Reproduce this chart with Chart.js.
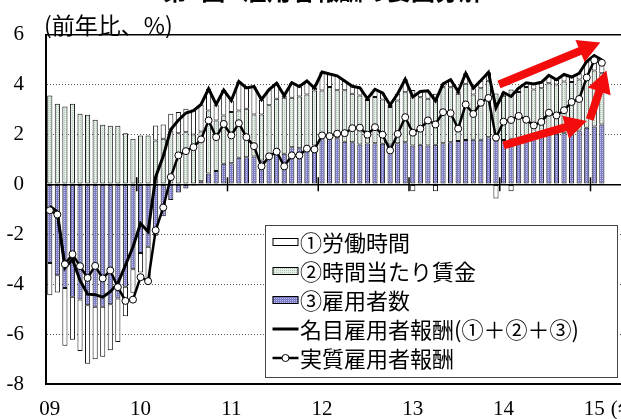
<!DOCTYPE html>
<html>
<head>
<meta charset="utf-8">
<script src="https://cdn.jsdelivr.net/npm/chart.js@4/dist/chart.umd.min.js"></script>
<style>
  html, body { margin: 0; padding: 0; background: #fff; overflow: hidden; }
  #wrap { position: relative; width: 621px; height: 419px; overflow: hidden; background: #fff; }
  #c { position: absolute; left: 0; top: 0; }
</style>
</head>
<body>
<div id="wrap"><canvas id="c" width="656" height="419"></canvas></div>
<script>
// Year labels shown under each January (2009 .. 2015)
const yearTicks = ['09', '10', '11', '12', '13', '14', '15'];

// Contributions, % y/y, monthly from Jan 2009 to Feb 2015
const employees = [
  -3.15, -3.64, -4.15, -4.50, -4.61, -4.84, -4.90, -4.90, -4.80, -4.57, -4.10, -3.40,
  -2.75, -2.50, -2.06, -1.28, -0.63, -0.33, -0.17, -0.05, 0.12, 0.43, 0.53, 0.83,
  0.85, 1.07, 1.09, 1.12, 0.96, 1.16, 1.29, 1.23, 1.49, 1.45, 1.43, 1.56,
  1.85, 1.87, 1.85, 1.71, 1.69, 1.60, 1.64, 1.65, 1.63, 1.60, 1.65, 1.69,
  1.56, 1.59, 1.56, 1.59, 1.65, 1.69, 1.74, 1.78, 1.79, 1.79, 1.89, 1.76,
  1.78, 1.83, 1.87, 1.92, 1.93, 1.96, 2.00, 2.03, 2.05, 2.09, 2.16, 2.27,
  2.32, 2.40
];
const hourlyWage = [
  3.56, 3.23, 3.12, 3.23, 2.83, 2.79, 2.59, 2.39, 2.35, 2.35, 2.05, 1.83,
  1.96, 1.96, 1.76, 1.83, 2.16, 2.05, 2.09, 2.00, 2.00, 2.53, 2.03, 1.93,
  2.05, 1.89, 1.94, 1.68, 1.84, 2.01, 2.14, 2.24, 1.98, 2.07, 2.17, 2.20,
  1.91, 2.03, 1.92, 2.06, 1.94, 1.96, 1.74, 1.85, 1.77, 1.50, 1.71, 2.00,
  2.22, 1.90, 1.87, 2.04, 2.24, 2.20, 1.89, 2.25, 1.81, 2.06, 2.26, 1.88,
  1.77, 1.97, 1.83, 1.98, 1.87, 1.89, 2.05, 1.97, 2.07, 2.01, 2.04, 1.93,
  2.24, 2.05
];
const hours = [
  -1.29, -0.69, -2.32, -1.73, -2.07, -2.35, -2.11, -2.01, -1.85, -1.75, -1.19, -0.94,
  -0.78, -1.36, 0.60, 0.57, 0.67, 0.85, 0.94, 1.00, 1.08, 0.87, 0.64, 1.02,
  0.46, 1.16, 0.83, 1.12, 0.60, 0.63, 0.62, 0.09, 0.60, 0.40, 0.54, 0.10,
  0.74, 0.52, 0.58, 0.37, 0.30, 0.31, 0.05, 0.31, 0.26, 0.08, 0.27, 0.52,
  -0.28, 0.23, 0.32, -0.28, 0.14, 0.30, 0.09, 0.42, 0.25, 0.31, 0.34, -0.57,
  0.13, -0.28, 0.16, 0.17, 0.22, 0.24, 0.32, 0.19, 0.28, 0.20, 0.25, 0.72,
  0.60, 0.53
];
const nominalComp = [
  -0.88, -1.10, -3.35, -3.00, -3.85, -4.40, -4.42, -4.52, -4.30, -3.97, -3.24, -2.51,
  -1.57, -1.90, 0.30, 1.12, 2.20, 2.57, 2.86, 2.95, 3.20, 3.83, 3.20, 3.78,
  3.36, 4.12, 3.86, 3.92, 3.40, 3.80, 4.05, 3.56, 4.07, 3.92, 4.14, 3.86,
  4.50, 4.42, 4.35, 4.14, 3.93, 3.87, 3.43, 3.81, 3.66, 3.18, 3.63, 4.21,
  3.50, 3.72, 3.75, 3.35, 4.03, 4.19, 3.72, 4.45, 3.85, 4.16, 4.49, 3.07,
  3.68, 3.52, 3.86, 4.07, 4.02, 4.09, 4.37, 4.19, 4.40, 4.30, 4.45, 4.92,
  5.16, 4.98
];
const realComp = [
  -1.04, -1.21, -3.20, -2.80, -3.28, -3.75, -3.27, -3.77, -3.45, -4.12, -4.67, -4.62,
  -3.72, -3.88, -1.84, -0.93, 0.29, 1.16, 1.33, 1.49, 1.80, 2.56, 1.89, 2.42,
  1.96, 2.45, 1.89, 1.53, 0.72, 1.12, 1.31, 0.72, 1.16, 1.16, 1.43, 1.40,
  1.96, 1.93, 2.03, 2.05, 2.25, 2.27, 1.99, 2.29, 1.99, 1.36, 2.02, 2.69,
  2.07, 2.23, 2.56, 2.40, 2.89, 2.85, 2.23, 3.20, 2.82, 3.27, 3.46, 1.87,
  2.51, 2.58, 2.74, 2.59, 2.36, 2.50, 2.87, 2.76, 2.97, 3.30, 3.42, 4.28,
  4.97, 4.87
];

// Month categories; the axis runs a few months past the last observation
const months = [];
for (let i = 0; i < 80; i++) {
  months.push((2009 + Math.floor(i / 12)) + '/' + (i % 12 + 1));
}

// Red trend arrows, in (month index, value) coordinates
const trendArrows = [
  { from: [59.4, 4.00], to: [72.8, 5.68] },
  { from: [60.0, 1.56], to: [71.0, 2.54] },
  { from: [71.4, 2.60], to: [73.6, 4.56] }
];

const SERIF = '"Liberation Serif", "Times New Roman", serif';
const JP = '"Noto Sans CJK JP", "Noto Sans", sans-serif';
const X_TICK_PAD = 5;

const canvas = document.getElementById('c');
const ctx0 = canvas.getContext('2d');

function dotPattern(base, dot) {
  const p = document.createElement('canvas');
  p.width = 2; p.height = 2;
  const g = p.getContext('2d');
  g.fillStyle = base; g.fillRect(0, 0, 2, 2);
  g.fillStyle = dot; g.fillRect(0, 0, 1, 1);
  return ctx0.createPattern(p, 'repeat');
}
const greenFill = dotPattern('#e4eee6', '#afcab6');
const blueFill = dotPattern('#7c7cc8', '#c2c2ee');

const legendBox = { x: 265.5, y: 225.5, w: 352, h: 152, row0: 242, rowH: 29, sw: 26, textX: 300 };

const decor = {
  id: 'decor',
  beforeDatasetsDraw(chart) {
    const { ctx, scales: { x, y } } = chart;
    const y0 = y.getPixelForValue(0);
    ctx.save();
    ctx.strokeStyle = '#000';
    ctx.lineWidth = 1.5;
    for (let k = 1; k < yearTicks.length; k++) {
      const i = k * 12;
      const px = (x.getPixelForValue(i - 1) + x.getPixelForValue(i)) / 2;
      ctx.beginPath();
      ctx.moveTo(px, y0 - 7);
      ctx.lineTo(px, y0 + 7);
      ctx.stroke();
    }
    ctx.restore();
  },
  afterDatasetsDraw(chart) {
    const { ctx, scales: { x, y } } = chart;
    // trend arrows
    ctx.save();
    ctx.fillStyle = '#f20c0c';
    for (const a of trendArrows) {
      const x1 = x.getPixelForValue(a.from[0]), y1 = y.getPixelForValue(a.from[1]);
      const x2 = x.getPixelForValue(a.to[0]), y2 = y.getPixelForValue(a.to[1]);
      const ang = Math.atan2(y2 - y1, x2 - x1);
      const len = Math.hypot(x2 - x1, y2 - y1);
      const shaft = 4, head = 12, headLen = 22;
      ctx.save();
      ctx.translate(x1, y1);
      ctx.rotate(ang);
      ctx.beginPath();
      ctx.moveTo(0, -shaft);
      ctx.lineTo(len - headLen, -shaft);
      ctx.lineTo(len - headLen, -head);
      ctx.lineTo(len, 0);
      ctx.lineTo(len - headLen, head);
      ctx.lineTo(len - headLen, shaft);
      ctx.lineTo(0, shaft);
      ctx.closePath();
      ctx.fill();
      ctx.restore();
    }
    ctx.restore();

    // legend
    const L = legendBox;
    ctx.save();
    ctx.fillStyle = '#fff';
    ctx.fillRect(L.x, L.y, L.w, L.h);
    ctx.strokeStyle = '#444';
    ctx.lineWidth = 1;
    ctx.strokeRect(L.x, L.y, L.w, L.h);
    const orderIdx = [2, 1, 0, 3, 4];
    ctx.font = '22px ' + JP;
    ctx.textBaseline = 'middle';
    ctx.textAlign = 'left';
    orderIdx.forEach((di, r) => {
      const ds = chart.data.datasets[di];
      const cy = L.row0 + r * L.rowH;
      const sx = L.x + 7;
      if (ds.type === 'bar') {
        ctx.fillStyle = ds.backgroundColor;
        ctx.fillRect(sx, cy - 4, L.sw, 8);
        ctx.strokeStyle = '#000';
        ctx.lineWidth = 1;
        ctx.strokeRect(sx + 0.5, cy - 4 + 0.5, L.sw - 1, 7);
      } else {
        ctx.strokeStyle = '#000';
        ctx.lineWidth = ds.borderWidth;
        ctx.beginPath();
        ctx.moveTo(sx, cy);
        ctx.lineTo(sx + L.sw, cy);
        ctx.stroke();
        if (ds.pointRadius > 0) {
          ctx.beginPath();
          ctx.arc(sx + L.sw / 2, cy, ds.pointRadius, 0, Math.PI * 2);
          ctx.fillStyle = '#fff';
          ctx.fill();
          ctx.lineWidth = 1;
          ctx.stroke();
        }
      }
      ctx.fillStyle = '#000';
      ctx.fillText(ds.label, L.textX, cy + 1);
    });
    ctx.restore();
  },
  afterDraw(chart) {
    const { ctx, scales: { x } } = chart;
    ctx.save();
    ctx.fillStyle = '#000';
    // heading, mostly above the visible area
    ctx.font = 'bold 24px ' + JP;
    ctx.textBaseline = 'alphabetic';
    ctx.textAlign = 'left';
    ctx.fillText('第1図', 163, 0);
    ctx.fillText('雇用者報酬の要因分解', 243, 0);
    // unit
    ctx.font = '23px ' + JP;
    ctx.fillText('(前年比、%)', 44, 34);
    // unit suffix after the last year label
    const i15 = (yearTicks.length - 1) * 12;
    const px = x.getPixelForValue(i15);
    ctx.font = '21px ' + SERIF;
    ctx.textBaseline = 'middle';
    const w = ctx.measureText(yearTicks[yearTicks.length - 1]).width;
    ctx.fillText('(年)', px + w / 2 + 6, x.top + 8 + X_TICK_PAD + 12.6);
    ctx.restore();
  }
};

function gridStyle(v) {
  if (v === 0) return { c: '#000', w: 1.5, d: [] };
  if (v === 6) return { c: '#000', w: 1.5, d: [] };
  if (v === -8) return { c: '#000', w: 2, d: [] };
  return { c: '#555', w: 1, d: [1, 2] };
}

function build() {
  new Chart(canvas, {
    data: {
      labels: months,
      datasets: [
        { type: 'bar', label: '③雇用者数', data: employees, backgroundColor: blueFill,
          borderColor: '#111', borderWidth: 1, borderSkipped: false, order: 2 },
        { type: 'bar', label: '②時間当たり賃金', data: hourlyWage, backgroundColor: greenFill,
          borderColor: '#111', borderWidth: 1, borderSkipped: false, order: 2 },
        { type: 'bar', label: '①労働時間', data: hours, backgroundColor: '#fff',
          borderColor: '#111', borderWidth: 1, borderSkipped: false, order: 2 },
        { type: 'line', label: '名目雇用者報酬(①＋②＋③)', data: nominalComp, stack: 'nominal',
          borderColor: '#000', borderWidth: 3, pointRadius: 0, tension: 0, fill: false, order: 1 },
        { type: 'line', label: '実質雇用者報酬', data: realComp, stack: 'real',
          borderColor: '#000', borderWidth: 2.5, pointRadius: 3.5, pointBackgroundColor: '#fff',
          pointBorderColor: '#000', pointBorderWidth: 1, tension: 0, fill: false, order: 0 }
      ]
    },
    options: {
      responsive: false,
      animation: false,
      devicePixelRatio: 1,
      events: [],
      layout: { padding: { top: 34, left: 0, right: 0, bottom: 0 } },
      datasets: { bar: { barPercentage: 0.68, categoryPercentage: 1 } },
      plugins: { legend: { display: false }, tooltip: { enabled: false }, title: { display: false } },
      scales: {
        x: {
          type: 'category',
          stacked: true,
          offset: true,
          grid: { display: false },
          border: { display: true, color: '#000', width: 2 },
          ticks: {
            autoSkip: false, maxRotation: 0, minRotation: 0, padding: X_TICK_PAD, color: '#000',
            font: { family: SERIF, size: 21 },
            callback: (v, i) => (i % 12 === 0 && i / 12 < yearTicks.length) ? yearTicks[i / 12] : ''
          },
          afterFit: s => { s.height = 35; }
        },
        y: {
          stacked: true,
          min: -8, max: 6,
          ticks: { stepSize: 2, padding: 22, color: '#000', font: { family: SERIF, size: 21 } },
          grid: {
            drawTicks: false,
            color: c => gridStyle(c.tick ? c.tick.value : 1).c,
            lineWidth: c => gridStyle(c.tick ? c.tick.value : 1).w
          },
          border: {
            display: true, color: '#000', width: 2,
            dash: c => (c.tick ? gridStyle(c.tick.value).d : [])
          },
          afterFit: s => { s.width = 46; }
        }
      }
    },
    plugins: [decor]
  });
}

const fontLoads = [
  document.fonts.load('22px "Noto Sans CJK JP"', '前年比'),
  document.fonts.load('bold 24px "Noto Sans CJK JP"', '雇用'),
  document.fonts.load('21px "Liberation Serif"', '0123')
];
Promise.race([Promise.all(fontLoads), new Promise(r => setTimeout(r, 1500))]).then(build, build);
</script>
</body>
</html>
